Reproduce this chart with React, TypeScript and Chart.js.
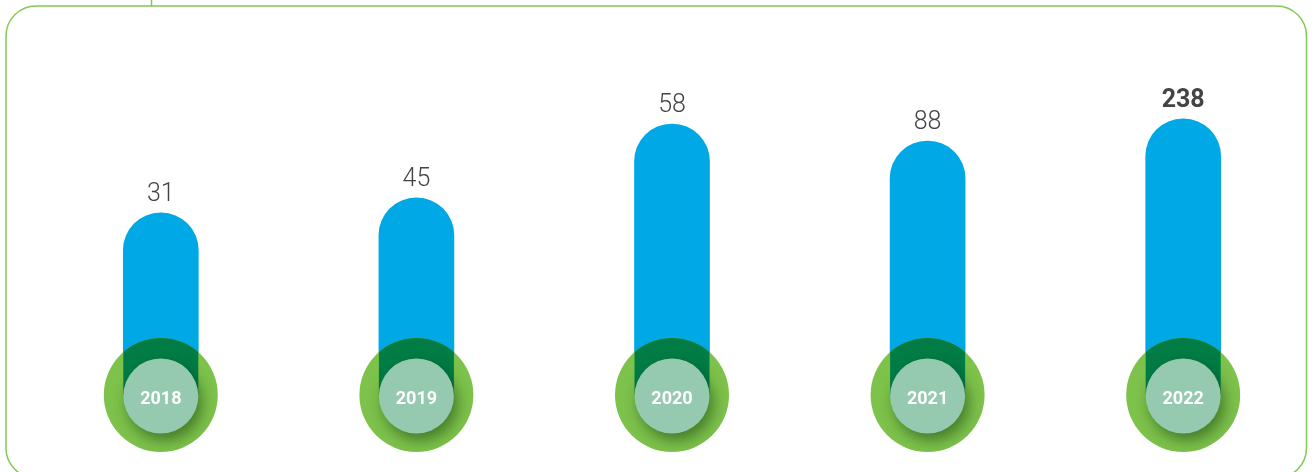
import React, { useEffect, useRef } from "react";
import { Chart, registerables } from "chart.js";

Chart.register(...registerables);

// Data
const years = ["2018", "2019", "2020", "2021", "2022"];
const valueLabels = ["31", "45", "58", "88", "238"];
// visual bar levels (0-100 scale) as drawn in the infographic
const barLevels = [46.1, 49.9, 68.6, 64.3, 69.9];
const boldFlags = [false, false, false, false, true];

const BLUE = "rgb(0,168,230)";
const GREEN = "rgb(125,194,75)";
const DARK_GREEN = "rgb(0,124,68)";
const INNER = "rgb(149,201,176)";
const BORDER = "rgb(132,200,87)";

const W = 1315;
const H = 472;
const BAR_W = 75;
const OUTER_R = 57;
const INNER_R = 37.5;

const decorPlugin = {
  id: "decor",
  beforeDraw(chart: any) {
    const ctx = chart.ctx;
    ctx.save();
    ctx.strokeStyle = BORDER;
    ctx.lineWidth = 1.5;
    ctx.beginPath();
    (ctx as any).roundRect(6, 6, 1300.5, 472, 30);
    ctx.stroke();
    ctx.beginPath();
    ctx.moveTo(151.5, 0);
    ctx.lineTo(151.5, 6);
    ctx.stroke();
    ctx.restore();
  },
  afterDatasetsDraw(chart: any) {
    const ctx = chart.ctx;
    const meta = chart.getDatasetMeta(0);
    meta.data.forEach((bar: any, i: number) => {
      const x = bar.x;
      const top = bar.y;
      const cy = bar.base;
      ctx.save();
      ctx.beginPath();
      ctx.arc(x, cy, OUTER_R, 0, Math.PI * 2);
      ctx.fillStyle = GREEN;
      ctx.fill();
      ctx.beginPath();
      ctx.arc(x, cy, OUTER_R, 0, Math.PI * 2);
      ctx.clip();
      ctx.fillStyle = DARK_GREEN;
      ctx.fillRect(x - BAR_W / 2, top, BAR_W, cy - top);
      ctx.shadowColor = "rgba(0,40,0,0.45)";
      ctx.shadowBlur = 14;
      ctx.shadowOffsetX = 4;
      ctx.shadowOffsetY = 7;
      ctx.beginPath();
      ctx.arc(x, cy + 1, INNER_R, 0, Math.PI * 2);
      ctx.fillStyle = INNER;
      ctx.fill();
      ctx.restore();

      ctx.save();
      ctx.fillStyle = "#ffffff";
      ctx.font = "bold 18px Roboto";
      ctx.textAlign = "center";
      ctx.textBaseline = "middle";
      ctx.fillText(years[i], x, cy + 4);

      ctx.fillStyle = "#444444";
      ctx.font = boldFlags[i] ? "bold 25px Roboto" : "300 25px Roboto";
      ctx.textBaseline = "alphabetic";
      ctx.fillText(valueLabels[i], x, top - 12);
      ctx.restore();
    });
  },
};

export default function App() {
  const ref = useRef<HTMLCanvasElement | null>(null);
  useEffect(() => {
    if (!ref.current) return;
    const chart = new Chart(ref.current, {
      type: "bar",
      data: {
        labels: years,
        datasets: [
          {
            data: barLevels,
            backgroundColor: BLUE,
            barThickness: BAR_W,
            borderSkipped: "bottom",
            borderRadius: { topLeft: 37.5, topRight: 37.5, bottomLeft: 0, bottomRight: 0 },
          },
        ],
      },
      options: {
        animation: false,
        responsive: false,
        devicePixelRatio: 1,
        layout: { padding: { left: 33, right: 4, top: 0, bottom: H - 395 } },
        plugins: { legend: { display: false }, tooltip: { enabled: false } },
        scales: {
          x: { display: false, offset: true },
          y: { display: false, min: 0, max: 100 },
        },
      },
      plugins: [decorPlugin],
    });
    return () => chart.destroy();
  }, []);
  return (
    <div style={{ position: "absolute", left: 0, top: 0, width: W, height: H, background: "#fff" }}>
      <canvas ref={ref} width={W} height={H} style={{ display: "block" }} />
    </div>
  );
}
